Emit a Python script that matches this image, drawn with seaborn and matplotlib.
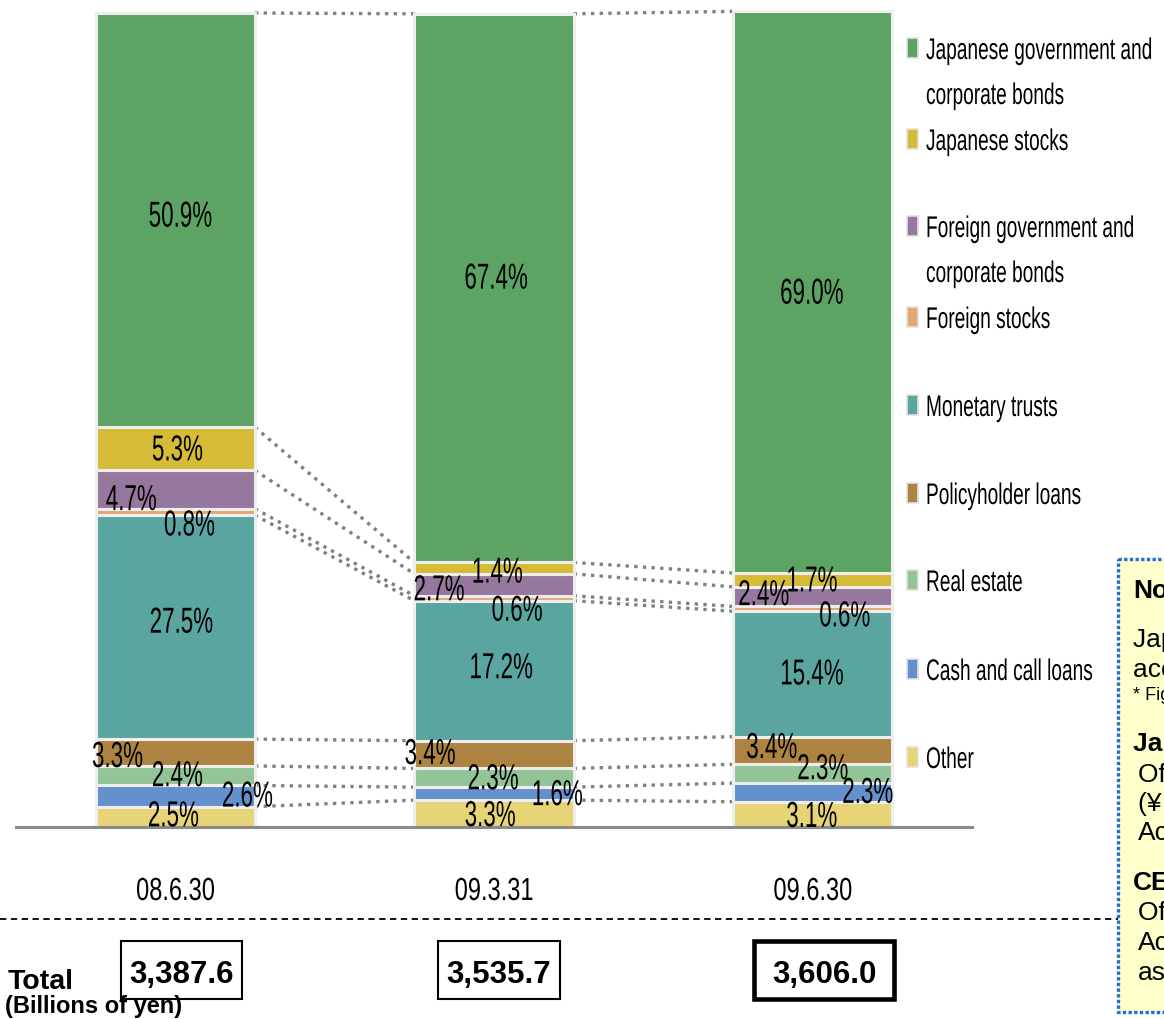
import numpy as np
import matplotlib
matplotlib.use("Agg")
import matplotlib.pyplot as plt
from matplotlib.patches import Rectangle
from matplotlib.path import Path
from matplotlib.patheffects import AbstractPathEffect
from matplotlib.transforms import Affine2D, Bbox
import seaborn as sns

# ---------------------------------------------------------------- data
dates = ["08.6.30", "09.3.31", "09.6.30"]
totals = ["3,387.6", "3,535.7", "3,606.0"]

# asset classes, listed from the bottom of each stack to the top
categories = [
    "Other",
    "Cash and call loans",
    "Real estate",
    "Policyholder loans",
    "Monetary trusts",
    "Foreign stocks",
    "Foreign government and corporate bonds",
    "Japanese stocks",
    "Japanese government and corporate bonds",
]
other = [2.5, 3.3, 3.1]
cash_call = [2.6, 1.6, 2.3]
real_estate = [2.4, 2.3, 2.3]
policy_loans = [3.3, 3.4, 3.4]
monetary_trusts = [27.5, 17.2, 15.4]
foreign_stocks = [0.8, 0.6, 0.6]
foreign_bonds = [4.7, 2.7, 2.4]
japanese_stocks = [5.3, 1.4, 1.7]
japanese_bonds = [50.9, 67.4, 69.0]

series = [other, cash_call, real_estate, policy_loans, monetary_trusts,
          foreign_stocks, foreign_bonds, japanese_stocks, japanese_bonds]

legend_labels = [
    "Japanese government and\ncorporate bonds",
    "Japanese stocks",
    "Foreign government and\ncorporate bonds",
    "Foreign stocks",
    "Monetary trusts",
    "Policyholder loans",
    "Real estate",
    "Cash and call loans",
    "Other",
]

# ---------------------------------------------------------------- styling
palette = {
    "Other": "#E6D476",
    "Cash and call loans": "#6490CB",
    "Real estate": "#93C497",
    "Policyholder loans": "#AC8340",
    "Monetary trusts": "#5AA5A0",
    "Foreign stocks": "#E3A874",
    "Foreign government and corporate bonds": "#96789F",
    "Japanese stocks": "#D6BB37",
    "Japanese government and corporate bonds": "#5DA363",
}

# nudges (pixels) for the percentage labels, same order as `series`
label_dx = [[-2, -4, -1], [72, 63, 55], [2, -1, 10], [-58, -64, -41],
            [6, 7, -1], [14, 23, 32], [-44, -55, -49], [2, 3, -1], [5, 2, -1]]
label_dy = [[4, 1, 1], [3, 2, 3], [3, 2, 8], [-1, 4, 6],
            [8, 6, 3], [-10, -9, -4], [-7, -2, 5], [2, -1, 2], [7, 13, 2]]


class Squeeze(AbstractPathEffect):
    """Draw text horizontally condensed around its left edge or centre."""

    def __init__(self, sx, anchor="center"):
        super().__init__()
        self.sx = sx
        self.anchor = anchor

    def draw_path(self, renderer, gc, tpath, affine, rgbFace=None):
        v = tpath.vertices
        if tpath.codes is not None:
            keep = (tpath.codes != Path.CLOSEPOLY) & (tpath.codes != Path.STOP)
            v = v[keep]
        if self.anchor == "left" or len(v) == 0:
            px = 0.0
        else:
            px = 0.5 * (v[:, 0].min() + v[:, 0].max())
        cx = affine.transform([[px, 0.0]])[0, 0]
        squeeze = Affine2D().translate(-cx, 0).scale(self.sx, 1).translate(cx, 0)
        renderer.draw_path(gc, tpath, affine + squeeze, rgbFace)


def condense(text, sx, anchor="center"):
    """Condense a text artist and keep its reported extent consistent."""
    text.set_path_effects([Squeeze(sx, anchor)])
    base_extent = text.get_window_extent

    def extent(renderer=None, dpi=None):
        bb = base_extent(renderer, dpi)
        w = bb.width * sx
        x0 = bb.x0 if anchor == "left" else 0.5 * (bb.x0 + bb.x1) - w / 2
        return Bbox([[x0, bb.y0], [x0 + w, bb.y1]])

    text.get_window_extent = extent
    return text


sns.set_style("white")
plt.rcParams["font.family"] = ["Liberation Sans", "DejaVu Sans"]
plt.rcParams["text.color"] = "black"
plt.rcParams["xtick.color"] = "black"

W, H = 1164, 1019
fig = plt.figure(figsize=(W / 100, H / 100), dpi=100)
fig.patch.set_facecolor("white")

# main plotting area: baseline at y=827 px, 8.14 px per percentage point
ax = fig.add_axes([16 / W, (H - 827) / H, 956 / W, 827 / H])
ax.set_facecolor("none")

bottom = np.zeros(len(dates))
bottoms, tops = [], []
for name, vals in zip(categories, series):
    sns.barplot(x=dates, y=vals, bottom=bottom.copy(), color=palette[name],
                saturation=1, width=0.5, errorbar=None, edgecolor="#eeeeee",
                linewidth=2.2, ax=ax, zorder=3)
    bottoms.append(bottom.copy())
    bottom = bottom + np.asarray(vals)
    tops.append(bottom.copy())

ax.set_xlim(-0.5, 2.5)
ax.set_ylim(0, 827 / 8.14)
ax.set_xlabel("")
ax.set_ylabel("")
ax.set_yticks([])
for side in ("left", "right", "top"):
    ax.spines[side].set_visible(False)
ax.spines["bottom"].set_color("#8a8a8a")
ax.spines["bottom"].set_linewidth(2.2)
ax.spines["bottom"].set_zorder(4)
ax.set_xticks(range(len(dates)))
ax.set_xticklabels(dates, fontsize=23, color="black")
ax.tick_params(axis="x", length=0, pad=36)
for lbl in ax.get_xticklabels():
    condense(lbl, 0.74)

# dotted connectors between matching segment boundaries
for b in tops:
    for i in range(len(dates) - 1):
        ax.plot([i + 0.25, i + 0.75], [b[i], b[i + 1]], color="#808080",
                lw=2.4, ls=(0, (1, 1.6)), dash_capstyle="butt",
                zorder=1, clip_on=False)

# percentage labels
for j, vals in enumerate(series):
    for i, v in enumerate(vals):
        t = ax.annotate(f"{v:.1f}%", xy=(i, bottoms[j][i] + v / 2),
                        xytext=(label_dx[j][i], label_dy[j][i]),
                        textcoords="offset pixels", ha="center",
                        va="center_baseline", fontsize=26, color="black",
                        zorder=6, annotation_clip=False)
        condense(t, 0.62)

# overlay in pixel coordinates for legend, totals and notes
ov = fig.add_axes([0, 0, 1, 1], zorder=10)
ov.set_xlim(0, W)
ov.set_ylim(H, 0)
ov.axis("off")
ov.patch.set_alpha(0)

legend_y = [48, 139, 226, 317, 405, 493, 580, 669, 757]
legend_order = categories[::-1]
for y, name, label in zip(legend_y, legend_order, legend_labels):
    ov.add_patch(Rectangle((907, y - 10), 11, 20, facecolor=palette[name],
                           edgecolor="#e2e2e2", lw=1.2))
    for k, line in enumerate(label.split("\n")):
        t = ov.text(926, y + 45 * k, line, ha="left", va="center_baseline",
                    fontsize=21.5, color="black")
        condense(t, 0.64, "left")

# dashed separator above totals
ov.plot([0, 1118], [919, 919], color="black", lw=1.3, ls=(0, (3.5, 2.5)))

# totals
box_x = [(121, 242), (438, 560), (754, 894)]
box_lw = [1.5, 1.5, 3.3]
for (x0, x1), t, lw in zip(box_x, totals, box_lw):
    ov.add_patch(Rectangle((x0, 941), x1 - x0, 58, facecolor="white",
                           edgecolor="black", lw=lw))
    ov.text((x0 + x1) / 2, 971, t, ha="center", va="center_baseline",
            fontsize=22.5, fontweight="bold", color="black")
ov.text(8, 979, "Total", ha="left", va="center_baseline", fontsize=20.5,
        fontweight="bold", color="black")
ov.text(5, 1004, "(Billions of yen)", ha="left", va="center_baseline",
        fontsize=17, fontweight="bold", color="black")

# notes panel on the right edge
ov.add_patch(Rectangle((1118, 559), 140, 453, facecolor="#FFFFCC",
                       edgecolor="#1F6FD4", lw=2.4, ls=(0, (1, 0.7)),
                       clip_on=False))
notes = [
    (1133, 588, "Notes", True, 19),
    (1133, 637, "Japanese GAAP basis", False, 19),
    (1133, 667, "accounting figures", False, 19),
    (1133, 693, "* Figures rounded", False, 13),
    (1133, 742, "Japan Post Insurance", True, 19),
    (1138, 772, "Of which", False, 19),
    (1138, 801, "(\u00a5 billion)", False, 19),
    (1138, 831, "Accounts", False, 19),
    (1133, 881, "CEO", True, 19),
    (1138, 911, "Of which", False, 19),
    (1138, 941, "Accounts", False, 19),
    (1138, 970, "assets", False, 19),
]
for x, y, s, bold, fs in notes:
    ov.text(x, y, s, ha="left", va="center_baseline", fontsize=fs,
            fontweight="bold" if bold else "normal", color="black")

fig.savefig("out.png", dpi=100)
